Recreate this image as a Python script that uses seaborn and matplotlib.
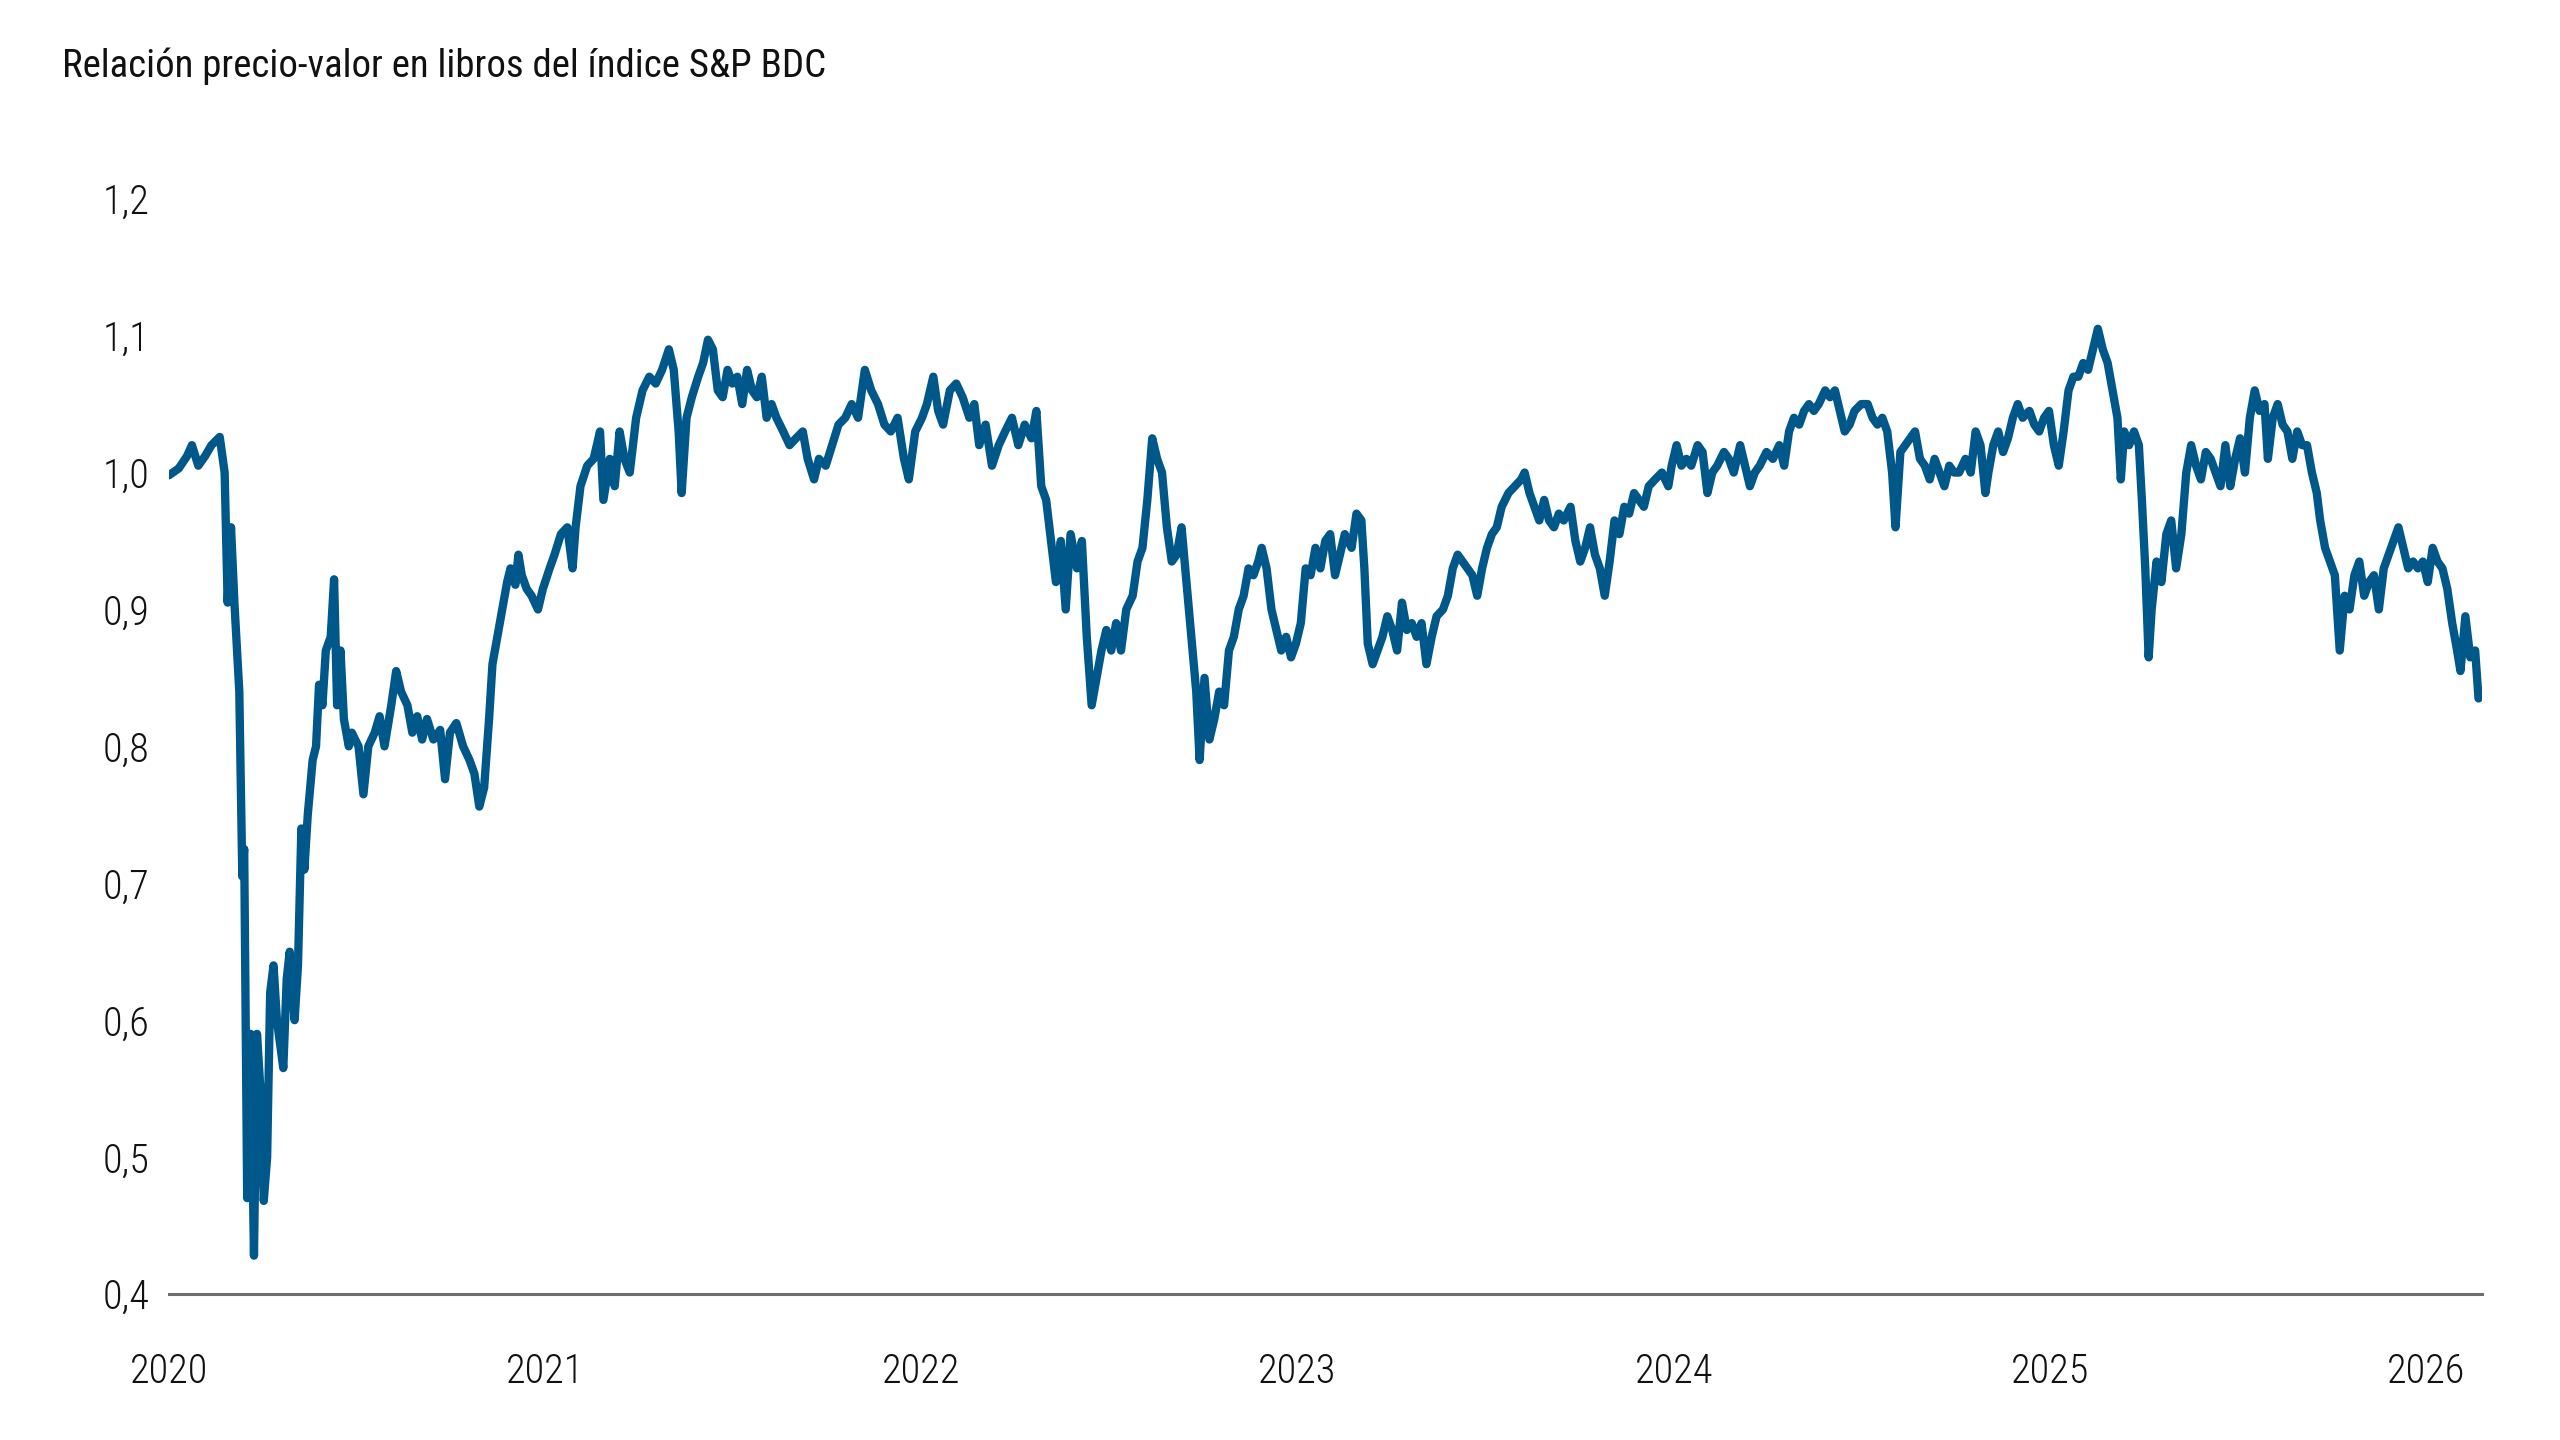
import matplotlib
matplotlib.use("Agg")
import matplotlib.pyplot as plt
import matplotlib.font_manager as fm
import seaborn as sns
import pandas as pd

# Relación precio-valor en libros (P/BV) del índice S&P BDC, leída del gráfico
# fecha en años decimales
anio = [
    2020.000, 2020.026, 2020.048, 2020.061, 2020.078, 2020.096, 2020.113, 2020.135, 2020.148, 2020.156,
    2020.165, 2020.174, 2020.187, 2020.195, 2020.200, 2020.208, 2020.217, 2020.226, 2020.234, 2020.243,
    2020.252, 2020.261, 2020.269, 2020.278, 2020.287, 2020.304, 2020.313, 2020.321, 2020.334, 2020.343,
    2020.352, 2020.360, 2020.369, 2020.382, 2020.391, 2020.399, 2020.408, 2020.417, 2020.430, 2020.439,
    2020.447, 2020.456, 2020.465, 2020.478, 2020.486, 2020.504, 2020.517, 2020.530, 2020.547, 2020.560,
    2020.573, 2020.591, 2020.604, 2020.617, 2020.634, 2020.647, 2020.660, 2020.673, 2020.686, 2020.703,
    2020.721, 2020.734, 2020.747, 2020.764, 2020.782, 2020.799, 2020.812, 2020.825, 2020.838, 2020.851,
    2020.860, 2020.873, 2020.886, 2020.899, 2020.908, 2020.921, 2020.929, 2020.938, 2020.951, 2020.964,
    2020.981, 2020.994, 2021.012, 2021.025, 2021.042, 2021.059, 2021.073, 2021.081, 2021.094, 2021.112,
    2021.129, 2021.146, 2021.155, 2021.172, 2021.185, 2021.198, 2021.211, 2021.225, 2021.242, 2021.259,
    2021.277, 2021.294, 2021.311, 2021.329, 2021.342, 2021.355, 2021.363, 2021.376, 2021.390, 2021.407,
    2021.420, 2021.433, 2021.446, 2021.459, 2021.472, 2021.485, 2021.498, 2021.511, 2021.524, 2021.537,
    2021.550, 2021.563, 2021.576, 2021.589, 2021.602, 2021.615, 2021.633, 2021.650, 2021.667, 2021.685,
    2021.698, 2021.715, 2021.728, 2021.746, 2021.763, 2021.780, 2021.798, 2021.815, 2021.832, 2021.850,
    2021.867, 2021.885, 2021.902, 2021.919, 2021.937, 2021.954, 2021.967, 2021.984, 2022.002, 2022.015,
    2022.032, 2022.045, 2022.058, 2022.076, 2022.093, 2022.110, 2022.128, 2022.141, 2022.154, 2022.171,
    2022.188, 2022.206, 2022.223, 2022.241, 2022.258, 2022.275, 2022.293, 2022.306, 2022.319, 2022.332,
    2022.345, 2022.358, 2022.371, 2022.384, 2022.397, 2022.414, 2022.427, 2022.440, 2022.453, 2022.466,
    2022.479, 2022.492, 2022.505, 2022.518, 2022.531, 2022.545, 2022.562, 2022.575, 2022.588, 2022.601,
    2022.614, 2022.627, 2022.640, 2022.653, 2022.666, 2022.679, 2022.692, 2022.705, 2022.718, 2022.731,
    2022.740, 2022.753, 2022.766, 2022.779, 2022.792, 2022.805, 2022.818, 2022.831, 2022.844, 2022.857,
    2022.870, 2022.883, 2022.896, 2022.905, 2022.918, 2022.931, 2022.944, 2022.957, 2022.970, 2022.983,
    2022.996, 2023.009, 2023.022, 2023.035, 2023.048, 2023.061, 2023.074, 2023.087, 2023.100, 2023.113,
    2023.126, 2023.144, 2023.157, 2023.170, 2023.178, 2023.187, 2023.200, 2023.213, 2023.226, 2023.239,
    2023.252, 2023.265, 2023.278, 2023.291, 2023.304, 2023.317, 2023.330, 2023.343, 2023.357, 2023.370,
    2023.387, 2023.400, 2023.413, 2023.426, 2023.439, 2023.452, 2023.465, 2023.478, 2023.491, 2023.504,
    2023.517, 2023.530, 2023.543, 2023.561, 2023.578, 2023.595, 2023.604, 2023.617, 2023.630, 2023.643,
    2023.656, 2023.669, 2023.682, 2023.695, 2023.708, 2023.726, 2023.739, 2023.752, 2023.765, 2023.778,
    2023.791, 2023.804, 2023.817, 2023.830, 2023.843, 2023.856, 2023.869, 2023.882, 2023.895, 2023.908,
    2023.921, 2023.934, 2023.951, 2023.969, 2023.986, 2023.995, 2024.008, 2024.021, 2024.034, 2024.047,
    2024.064, 2024.077, 2024.090, 2024.103, 2024.116, 2024.134, 2024.147, 2024.160, 2024.177, 2024.190,
    2024.203, 2024.216, 2024.229, 2024.247, 2024.264, 2024.281, 2024.294, 2024.307, 2024.320, 2024.334,
    2024.347, 2024.360, 2024.373, 2024.386, 2024.403, 2024.416, 2024.429, 2024.442, 2024.455, 2024.468,
    2024.481, 2024.499, 2024.516, 2024.529, 2024.542, 2024.555, 2024.568, 2024.581, 2024.590, 2024.603,
    2024.616, 2024.629, 2024.642, 2024.655, 2024.668, 2024.681, 2024.694, 2024.707, 2024.720, 2024.733,
    2024.746, 2024.759, 2024.776, 2024.790, 2024.803, 2024.816, 2024.829, 2024.837, 2024.850, 2024.863,
    2024.876, 2024.889, 2024.902, 2024.915, 2024.928, 2024.946, 2024.959, 2024.972, 2024.985, 2024.998,
    2025.011, 2025.024, 2025.037, 2025.050, 2025.063, 2025.076, 2025.089, 2025.102, 2025.115, 2025.128,
    2025.141, 2025.154, 2025.167, 2025.180, 2025.189, 2025.198, 2025.211, 2025.224, 2025.237, 2025.245,
    2025.254, 2025.263, 2025.271, 2025.284, 2025.297, 2025.310, 2025.323, 2025.336, 2025.350, 2025.363,
    2025.376, 2025.389, 2025.402, 2025.415, 2025.428, 2025.441, 2025.454, 2025.467, 2025.480, 2025.493,
    2025.506, 2025.519, 2025.532, 2025.545, 2025.558, 2025.571, 2025.580, 2025.593, 2025.606, 2025.619,
    2025.632, 2025.645, 2025.658, 2025.671, 2025.684, 2025.697, 2025.710, 2025.719, 2025.732, 2025.745,
    2025.758, 2025.771, 2025.784, 2025.797, 2025.810, 2025.823, 2025.836, 2025.849, 2025.862, 2025.875,
    2025.888, 2025.901, 2025.914, 2025.927, 2025.940, 2025.953, 2025.966, 2025.979, 2025.992, 2026.005,
    2026.018, 2026.031, 2026.044, 2026.057, 2026.070, 2026.083, 2026.092, 2026.105, 2026.118, 2026.131,
    2026.140, 2026.149,
]

ratio = [
    0.998, 1.003, 1.012, 1.020, 1.005, 1.012, 1.020, 1.026, 1.000, 0.905,
    0.960, 0.905, 0.840, 0.705, 0.725, 0.470, 0.590, 0.428, 0.590, 0.550,
    0.468, 0.500, 0.620, 0.640, 0.600, 0.565, 0.630, 0.650, 0.600, 0.640,
    0.740, 0.710, 0.750, 0.790, 0.800, 0.845, 0.830, 0.870, 0.880, 0.922,
    0.830, 0.870, 0.820, 0.800, 0.810, 0.800, 0.765, 0.800, 0.810, 0.822,
    0.800, 0.830, 0.855, 0.840, 0.830, 0.810, 0.822, 0.805, 0.820, 0.805,
    0.812, 0.776, 0.810, 0.817, 0.800, 0.790, 0.780, 0.756, 0.770, 0.820,
    0.860, 0.880, 0.900, 0.920, 0.930, 0.918, 0.940, 0.925, 0.915, 0.910,
    0.900, 0.915, 0.930, 0.940, 0.955, 0.960, 0.930, 0.960, 0.990, 1.005,
    1.010, 1.030, 0.980, 1.010, 0.990, 1.030, 1.010, 1.000, 1.040, 1.060,
    1.070, 1.065, 1.075, 1.090, 1.075, 1.030, 0.985, 1.040, 1.055, 1.070,
    1.080, 1.097, 1.090, 1.060, 1.055, 1.075, 1.065, 1.070, 1.050, 1.075,
    1.060, 1.055, 1.070, 1.040, 1.050, 1.040, 1.030, 1.020, 1.025, 1.030,
    1.010, 0.995, 1.010, 1.005, 1.020, 1.035, 1.040, 1.050, 1.040, 1.075,
    1.060, 1.050, 1.035, 1.030, 1.040, 1.010, 0.995, 1.030, 1.040, 1.050,
    1.070, 1.045, 1.035, 1.060, 1.065, 1.055, 1.040, 1.050, 1.020, 1.035,
    1.005, 1.020, 1.030, 1.040, 1.020, 1.035, 1.025, 1.045, 0.990, 0.980,
    0.950, 0.920, 0.950, 0.900, 0.955, 0.930, 0.950, 0.880, 0.830, 0.850,
    0.870, 0.885, 0.870, 0.890, 0.870, 0.900, 0.910, 0.935, 0.945, 0.980,
    1.025, 1.010, 1.000, 0.960, 0.935, 0.940, 0.960, 0.920, 0.880, 0.840,
    0.790, 0.850, 0.805, 0.820, 0.840, 0.830, 0.870, 0.880, 0.900, 0.910,
    0.930, 0.925, 0.935, 0.945, 0.930, 0.900, 0.885, 0.870, 0.880, 0.865,
    0.875, 0.890, 0.930, 0.925, 0.945, 0.930, 0.950, 0.955, 0.925, 0.940,
    0.955, 0.945, 0.970, 0.965, 0.930, 0.875, 0.860, 0.870, 0.880, 0.895,
    0.885, 0.870, 0.905, 0.885, 0.890, 0.880, 0.890, 0.860, 0.880, 0.895,
    0.900, 0.910, 0.930, 0.940, 0.935, 0.930, 0.925, 0.910, 0.930, 0.945,
    0.955, 0.960, 0.975, 0.985, 0.990, 0.995, 1.000, 0.985, 0.975, 0.965,
    0.980, 0.965, 0.960, 0.970, 0.965, 0.975, 0.950, 0.935, 0.945, 0.960,
    0.940, 0.930, 0.910, 0.935, 0.965, 0.955, 0.975, 0.970, 0.985, 0.980,
    0.975, 0.990, 0.995, 1.000, 0.990, 1.005, 1.020, 1.005, 1.010, 1.005,
    1.020, 1.015, 0.985, 1.000, 1.005, 1.015, 1.010, 1.000, 1.020, 1.005,
    0.990, 1.000, 1.005, 1.015, 1.010, 1.020, 1.005, 1.030, 1.040, 1.035,
    1.045, 1.050, 1.045, 1.050, 1.060, 1.055, 1.060, 1.045, 1.030, 1.035,
    1.045, 1.050, 1.050, 1.040, 1.035, 1.040, 1.030, 1.000, 0.960, 1.015,
    1.020, 1.025, 1.030, 1.010, 1.005, 0.995, 1.010, 1.000, 0.990, 1.005,
    1.000, 1.000, 1.010, 1.000, 1.030, 1.020, 0.985, 1.000, 1.020, 1.030,
    1.015, 1.025, 1.040, 1.050, 1.040, 1.045, 1.035, 1.030, 1.040, 1.045,
    1.020, 1.005, 1.030, 1.060, 1.070, 1.070, 1.080, 1.075, 1.090, 1.105,
    1.090, 1.080, 1.060, 1.040, 0.995, 1.030, 1.020, 1.030, 1.020, 0.980,
    0.930, 0.865, 0.900, 0.935, 0.920, 0.955, 0.965, 0.930, 0.955, 1.000,
    1.020, 1.005, 0.995, 1.015, 1.010, 1.000, 0.990, 1.020, 0.990, 1.010,
    1.025, 1.000, 1.040, 1.060, 1.045, 1.050, 1.010, 1.040, 1.050, 1.035,
    1.030, 1.010, 1.030, 1.020, 1.020, 1.000, 0.985, 0.965, 0.945, 0.935,
    0.925, 0.870, 0.910, 0.900, 0.925, 0.935, 0.910, 0.920, 0.925, 0.900,
    0.930, 0.940, 0.950, 0.960, 0.945, 0.930, 0.935, 0.930, 0.935, 0.920,
    0.945, 0.935, 0.930, 0.915, 0.890, 0.870, 0.855, 0.895, 0.865, 0.870,
    0.835, 0.840,
]

anios_eje = [2020, 2021, 2022, 2023, 2024, 2025, 2026]
valores_eje = [0.4, 0.5, 0.6, 0.7, 0.8, 0.9, 1.0, 1.1, 1.2]

titulo = "Relación precio-valor en libros del índice S&P BDC"

# ===================== estilo y fuentes =====================
sns.set_style("white")
disponibles = {f.name for f in fm.fontManager.ttflist}
familia = "DejaVu Sans"
for candidata in ["Roboto Condensed", "Liberation Sans Narrow", "Open Sans Condensed", "Roboto", "Liberation Sans"]:
    if candidata in disponibles:
        familia = candidata
        break
plt.rcParams["font.family"] = [familia, "DejaVu Sans"]

azul = "#00578a"
gris = "#6e6e6e"

df = pd.DataFrame({"anio": anio, "ratio": ratio})

fig = plt.figure(figsize=(12.8, 7.2), dpi=200)
ax = fig.add_axes([0.066, 0.1014, 0.9035, 0.7606])

sns.lineplot(data=df, x="anio", y="ratio", ax=ax, color=azul, linewidth=3.0,
             estimator=None, sort=False, solid_joinstyle="round", solid_capstyle="round")

ax.set_xlim(df["anio"].min(), df["anio"].max())
ax.set_ylim(0.4, 1.2)
ax.set_xticks(anios_eje)
ax.set_xticklabels([str(a) for a in anios_eje], fontweight="light")
ax.set_yticks(valores_eje)
ax.set_yticklabels([f"{v:.1f}".replace(".", ",") for v in valores_eje], fontweight="light")
ax.tick_params(axis="x", length=0, pad=21, labelsize=14.5, colors="#111111")
ax.tick_params(axis="y", length=0, pad=7, labelsize=14.5, colors="#111111")
ax.set_xlabel("")
ax.set_ylabel("")
ax.grid(False)

for lado in ["top", "right", "left"]:
    ax.spines[lado].set_visible(False)
ax.spines["bottom"].set_color(gris)
ax.spines["bottom"].set_linewidth(1.1)

fig.text(62 / 2560, 1 - 66 / 1440, titulo, fontsize=14, color="#111111", va="center", ha="left")

fig.savefig("out.png", dpi=200)
